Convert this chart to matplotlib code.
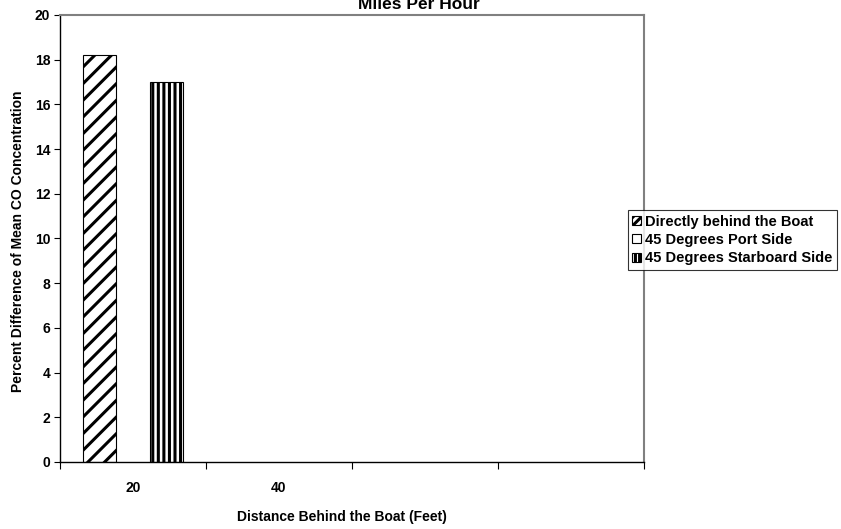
import numpy as np
import matplotlib
matplotlib.use("Agg")
import matplotlib.pyplot as plt

plt.rcParams["font.family"] = ["Liberation Sans", "DejaVu Sans"]
plt.rcParams["font.weight"] = "bold"
plt.rcParams["hatch.linewidth"] = 2.2

categories = ["20", "40", "", ""]
series_names = ["Directly behind the Boat", "45 Degrees Port Side", "45 Degrees Starboard Side"]
directly_behind = [18.2, 0, 0, 0]
port_side = [0, 0, 0, 0]
starboard_side = [17.0, 0, 0, 0]
y_ticks = [0, 2, 4, 6, 8, 10, 12, 14, 16, 18, 20]

series = [directly_behind, port_side, starboard_side]
hatches = ["//", "", "|||"]
legend_hatches = ["////", "", "||||"]

fig = plt.figure(figsize=(8.41, 5.29), dpi=100)
ax = fig.add_axes([0.0713, 0.1267, 0.6944, 0.845])

x = np.arange(len(categories)) + 0.5
width = 0.23
handles = []
for i, (vals, name, h, lh) in enumerate(zip(series, series_names, hatches, legend_hatches)):
    offs = (i - 1) * width
    v = np.array(vals, dtype=float)
    mask = v > 0
    ax.bar(x[mask] + offs, v[mask], width, color="white", edgecolor="black",
           hatch=h, linewidth=0.8)
    handles.append(plt.Rectangle((0, 0), 1, 1, facecolor="white", edgecolor="black",
                                 hatch=lh, linewidth=0.8, label=name))

ax.set_xlim(0, len(categories))
ax.set_ylim(0, 20)
ax.set_yticks(y_ticks)
ax.set_yticklabels([str(t) for t in y_ticks], fontsize=10, fontweight="bold")
ax.tick_params(axis="y", direction="out", length=4, width=0.8, pad=3)

# category boundaries as ticks, labels at category centres
ax.set_xticks(np.arange(len(categories) + 1))
ax.set_xticklabels([])
ax.set_xticks(x, minor=True)
ax.set_xticklabels(categories, minor=True, fontsize=10, fontweight="bold")
ax.tick_params(axis="x", which="major", direction="out", length=5, width=0.8)
ax.tick_params(axis="x", which="minor", length=0, pad=14)

for s in ["top", "right"]:
    ax.spines[s].set_color("#808080")
    ax.spines[s].set_linewidth(1.5)
for s in ["left", "bottom"]:
    ax.spines[s].set_color("black")
    ax.spines[s].set_linewidth(1.0)

fig.text(0.407, 1 - 517 / 529, "Distance Behind the Boat (Feet)", ha="center", va="center",
         fontsize=10, fontweight="bold")
fig.text(18 / 841, 1 - 241 / 529, "Percent Difference of Mean CO Concentration", rotation=90,
         ha="center", va="center", fontsize=10, fontweight="bold")
fig.text(419 / 841, 1 - 9 / 529, "Miles Per Hour", ha="center", va="baseline",
         fontsize=12.5, fontweight="bold")

leg = fig.legend(handles=handles, loc="center right", bbox_to_anchor=(837 / 841, 1 - 240 / 529),
                 fontsize=10.5, frameon=True, fancybox=False, handlelength=0.6,
                 handleheight=0.6, handletextpad=0.3, borderpad=0.3,
                 labelspacing=0.3, borderaxespad=0)
leg.get_frame().set_edgecolor("black")
leg.get_frame().set_linewidth(0.8)
for t in leg.get_texts():
    t.set_fontweight("bold")

fig.savefig("out.png", dpi=100)
